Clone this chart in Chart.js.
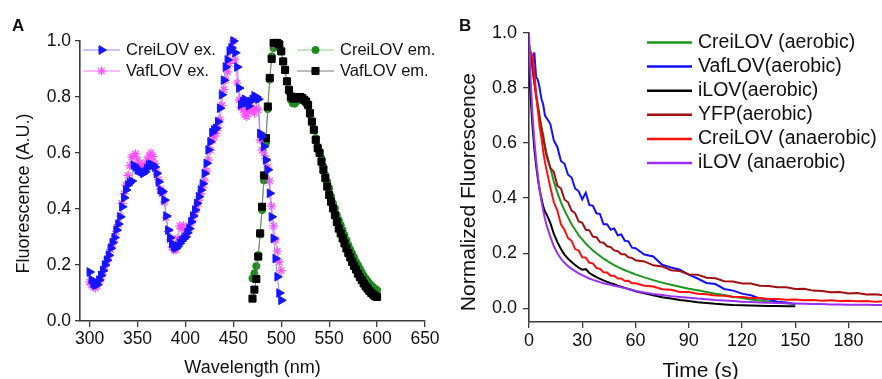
<!DOCTYPE html>
<html lang="en">
<head>
  <meta charset="UTF-8">
  <title>LOV fluorescence spectra and photobleaching</title>
  <script src="https://cdn.jsdelivr.net/npm/chart.js"></script>
  <style>
    body {
      margin: 0;
      background: #fff;
      overflow: hidden;
      font-family: "Liberation Sans", Arial, sans-serif;
    }
    .page {
      position: relative;
      width: 882px;
      height: 379px;
      overflow: hidden;
    }
    canvas {
      position: absolute;
      top: 0;
    }
    #chartA { left: 0; }
    #chartB { left: 441px; }
    .panel {
      position: absolute;
      font: bold 17px "Liberation Sans", Arial, sans-serif;
      line-height: 17px;
      color: #111;
    }
  </style>
</head>
<body>
  <div class="page">
    <canvas id="chartA" width="450" height="379"></canvas>
    <canvas id="chartB" width="445" height="384"></canvas>
    <div class="panel" style="left:12px; top:17px;">A</div>
    <div class="panel" style="left:459px; top:17px;">B</div>
  </div>

  <script>
    // Panel A : spectres d'excitation / d'émission (pas de 2 nm)
    const exWavelength = [
      300,302,304,306,308,310,312,314,316,318,
      320,322,324,326,328,330,332,334,336,338,
      340,342,344,346,348,350,352,354,356,358,
      360,362,364,366,368,370,372,374,376,378,
      380,382,384,386,388,390,392,394,396,398,
      400,402,404,406,408,410,412,414,416,418,
      420,422,424,426,428,430,432,434,436,438,
      440,442,444,446,448,450,452,454,456,458,
      460,462,464,466,468,470,472,474,476,478,
      480,482,484,486,488,490,492,494,496,498,
      500
    ];
    const creiEx = [
      .175,.148,.134,.128,.130,.146,.163,.180,.200,.217,
      .235,.260,.280,.298,.325,.346,.372,.408,.440,.468,
      .486,.494,.500,.557,.550,.540,.537,.533,.527,.533,
      .545,.557,.560,.557,.550,.527,.497,.468,.462,.432,
      .375,.325,.298,.277,.265,.260,.267,.277,.286,.293,
      .300,.315,.330,.354,.375,.396,.420,.444,.468,.490,
      .527,.563,.611,.640,.673,.683,.688,.712,.760,.808,
      .860,.907,.933,.963,.975,1.0,.958,.907,.832,.772,
      .784,.792,.780,.768,.784,.792,.804,.800,.792,.670,
      .659,.623,.575,.540,.456,.372,.295,.223,.158,.100,
      .074
    ];
    const vafEx = [
      .140,.128,.122,.118,.125,.140,.158,.176,.196,.214,
      .232,.255,.275,.295,.320,.345,.375,.420,.455,.485,
      .520,.555,.585,.590,.597,.575,.563,.555,.550,.560,
      .575,.590,.600,.587,.563,.533,.505,.470,.455,.425,
      .370,.320,.290,.265,.253,.255,.295,.340,.330,.340,
      .313,.313,.330,.350,.370,.388,.410,.432,.455,.478,
      .500,.535,.575,.610,.645,.660,.670,.690,.718,.770,
      .826,.860,.890,.920,.980,1.0,.933,.850,.790,.764,
      .754,.736,.730,.748,.760,.754,.742,.760,.754,.647,
      .611,.600,.580,.550,.500,.410,.340,.290,.250,.210,
      .180
    ];
    const emWavelength = [
      470,472,474,476,478,480,482,484,486,488,
      490,492,494,496,498,500,502,504,506,508,
      510,512,514,516,518,520,522,524,526,528,
      530,532,534,536,538,540,542,544,546,548,
      550,552,554,556,558,560,562,564,566,568,
      570,572,574,576,578,580,582,584,586,588,
      590,592,594,596,598,600
    ];
    const creiEm = [
      .152,.170,.196,.235,.310,.396,.502,.635,.757,.862,
      .945,.975,.990,.990,.980,.963,.927,.895,.856,.820,
      .790,.778,.776,.784,.790,.790,.790,.784,.776,.766,
      .737,.712,.685,.653,.623,.605,.580,.551,.521,.497,
      .474,.444,.420,.402,.378,.360,.343,.325,.307,.289,
      .271,.255,.241,.227,.211,.200,.187,.174,.162,.152,
      .143,.134,.126,.120,.115,.110
    ];
    const vafEm = [
      .080,.112,.150,.230,.313,.408,.520,.653,.766,.868,
      .936,.993,.993,.993,.988,.963,.927,.897,.856,.826,
      .802,.796,.794,.796,.800,.800,.796,.790,.784,.772,
      .742,.712,.683,.647,.617,.600,.569,.540,.510,.480,
      .450,.426,.402,.378,.354,.330,.313,.295,.277,.259,
      .243,.227,.211,.197,.184,.169,.157,.146,.134,.124,
      .116,.107,.100,.094,.088,.086
    ];
    const xTicksA = [300, 350, 400, 450, 500, 550, 600, 650];
    const yTicksA = [0, 0.2, 0.4, 0.6, 0.8, 1.0];

    // Panel B : déclin de fluorescence normalisée (s)
    const timeS = [
      0,1,2,3,4,5,6,7,8,9,10,
      12,14,16,18,20,22,24,26,28,30,
      32,34,36,38,40,42,44,46,48,50,
      52,54,56,58,60,
      65,70,75,80,85,90,95,100,105,110,
      115,120,125,130,135,140,145,150,155,160,
      165,170,175,180,185,190,195,200
    ];
    const creiAerobic = [
      .96,.92,.87,.82,.78,.74,.70,.66,.63,.59,.56,
      .51,.46,.42,.385,.355,.33,.305,.285,.265,.25,
      .235,.222,.21,.20,.19,.18,.172,.164,.157,.15,
      .144,.138,.133,.128,.123,
      .112,.102,.093,.085,.078,.071,.065,.059,.053,.048,
      .042,.037,.032,.028,.024,.021,.018,.015
    ];
    const vafAerobic = [
      .96,.90,.88,.93,.84,.83,.80,.76,.74,.70,.69,
      .67,.61,.585,.535,.525,.485,.475,.435,.425,.395,
      .42,.375,.372,.345,.342,.305,.305,.285,.29,.265,
      .268,.245,.243,.22,.218,
      .195,.188,.158,.148,.14,.122,.108,.092,.088,.07,
      .064,.053,.047,.036,.032,.024,.021,.015
    ];
    const ilovAerobic = [
      .88,.76,.66,.58,.52,.47,.43,.40,.37,.35,.34,
      .31,.27,.24,.215,.195,.18,.168,.157,.147,.14,
      .142,.128,.12,.113,.107,.101,.096,.091,.087,.082,
      .078,.074,.07,.066,.062,
      .054,.047,.04,.035,.03,.026,.022,.019,.016,.014,
      .012,.011,.01,.009,.008,.008,.007,.007
    ];
    const yfpAerobic = [
      .90,.92,.87,.82,.77,.73,.69,.65,.62,.58,.55,
      .51,.495,.445,.435,.395,.385,.355,.345,.315,.31,
      .285,.283,.26,.258,.24,.238,.225,.222,.21,.207,
      .196,.196,.185,.183,.174,
      .170,.156,.152,.138,.135,.123,.122,.111,.109,.098,
      .097,.09,.09,.082,.081,.076,.076,.07,.071,.064,
      .063,.058,.059,.054,.055,.05,.051,.047
    ];
    const creiAnaerobic = [
      .88,.93,.92,.86,.78,.72,.66,.62,.57,.53,.50,
      .44,.385,.355,.305,.285,.255,.245,.215,.21,.185,
      .184,.165,.163,.146,.143,.131,.13,.118,.118,.108,
      .108,.099,.10,.091,.091,
      .082,.079,.069,.067,.059,.059,.053,.051,.046,.045,
      .041,.041,.037,.037,.034,.034,.031,.032,.029,.03,
      .027,.029,.026,.027,.025,.026,.024,.025
    ];
    const ilovAnaerobic = [
      1.0,.82,.70,.61,.54,.48,.43,.39,.355,.325,.30,
      .26,.225,.20,.18,.165,.153,.143,.135,.127,.12,
      .114,.108,.103,.099,.095,.091,.088,.085,.082,.079,
      .076,.073,.07,.066,.063,
      .057,.052,.048,.044,.041,.038,.035,.033,.03,.028,
      .026,.024,.023,.021,.02,.019,.018,.017,.016,.015,
      .015,.014,.014,.013,.013,.013,.012,.012
    ];
    const xTicksB = [0, 30, 60, 90, 120, 150, 180];
    const yTicksB = [0, 0.2, 0.4, 0.6, 0.8, 1.0];

    const FONT = '"Liberation Sans", Arial, sans-serif';
    const INK = '#111';

    function pts(xs, ys) {
      return ys.map((y, i) => ({ x: xs[i], y: y }));
    }

    // légende dessinée à la main (deux blocs pour le panneau A)
    const panelLegend = {
      id: 'panelLegend',
      afterDraw(chart, args, opts) {
        const ctx = chart.ctx;
        ctx.save();
        ctx.font = opts.font;
        ctx.textBaseline = 'middle';
        opts.items.forEach(it => {
          const ds = chart.data.datasets[it.index];
          ctx.strokeStyle = ds.borderColor;
          ctx.lineWidth = opts.lineWidth || ds.borderWidth;
          ctx.beginPath();
          ctx.moveTo(it.x, it.y);
          ctx.lineTo(it.x + opts.lineLen, it.y);
          ctx.stroke();
          if (ds.pointRadius && Chart.helpers && Chart.helpers.drawPoint) {
            ctx.fillStyle = ds.pointBackgroundColor;
            ctx.strokeStyle = ds.pointBorderColor;
            ctx.lineWidth = ds.pointBorderWidth || 1;
            Chart.helpers.drawPoint(ctx, {
              pointStyle: ds.pointStyle,
              radius: ds.pointRadius,
              rotation: ds.pointRotation || 0,
              borderWidth: ds.pointBorderWidth || 1
            }, it.x + opts.lineLen / 2, it.y);
          }
          ctx.fillStyle = INK;
          ctx.fillText(ds.label, it.x + opts.lineLen + opts.gap, it.y);
        });
        ctx.restore();
      }
    };

    function axis(opts) {
      return {
        type: 'linear',
        min: opts.min,
        max: opts.max,
        afterBuildTicks: s => { s.ticks = opts.ticks.map(v => ({ value: v })); },
        afterFit: s => {
          if (opts.width) s.width = opts.width;
          if (opts.height) s.height = opts.height;
        },
        border: { display: true, color: '#3a3a3a', width: 1.6 },
        grid: { drawOnChartArea: false, drawTicks: true, tickLength: opts.tickLength, color: '#3a3a3a', lineWidth: 1.3 },
        ticks: {
          color: INK,
          padding: opts.tickPad,
          font: { family: FONT, size: opts.tickSize },
          maxRotation: 0,
          callback: opts.fmt
        },
        title: {
          display: true,
          text: opts.title,
          color: INK,
          font: { family: FONT, size: opts.titleSize },
          padding: opts.titlePad
        }
      };
    }

    new Chart(document.getElementById('chartA'), {
      type: 'line',
      data: {
        datasets: [
          {
            label: 'CreiLOV ex.',
            data: pts(exWavelength, creiEx),
            borderColor: '#8c8cff',
            borderWidth: 1,
            pointStyle: 'triangle',
            pointRotation: 90,
            pointRadius: 5,
            pointBackgroundColor: '#1414ff',
            pointBorderColor: '#1414ff',
            pointBorderWidth: 1,
            order: 0
          },
          {
            label: 'VafLOV ex.',
            data: pts(exWavelength, vafEx),
            borderColor: '#ff7bff',
            borderWidth: 1,
            pointStyle: 'star',
            pointRadius: 4.5,
            pointBackgroundColor: '#ff4dff',
            pointBorderColor: '#ff4dff',
            pointBorderWidth: 1.2,
            order: 2
          },
          {
            label: 'CreiLOV em.',
            data: pts(emWavelength, creiEm),
            borderColor: '#86cf86',
            borderWidth: 1,
            pointStyle: 'circle',
            pointRadius: 3.6,
            pointBackgroundColor: '#1c8a1c',
            pointBorderColor: '#1c8a1c',
            pointBorderWidth: 1,
            order: 3
          },
          {
            label: 'VafLOV em.',
            data: pts(emWavelength, vafEm),
            borderColor: '#7a7a7a',
            borderWidth: 1,
            pointStyle: 'rect',
            pointRadius: 5,
            pointBackgroundColor: '#000',
            pointBorderColor: '#000',
            pointBorderWidth: 1,
            order: 1
          }
        ]
      },
      options: {
        responsive: false,
        animation: false,
        devicePixelRatio: 1,
        clip: 10,
        elements: { line: { tension: 0 } },
        layout: { padding: { top: 41, right: 25, bottom: 0, left: 0 } },
        scales: {
          x: axis({
            min: 290, max: 650, ticks: xTicksA, height: 58,
            tickLength: 6, tickPad: 2, tickSize: 17.5,
            fmt: v => String(v),
            title: 'Wavelength (nm)', titleSize: 18, titlePad: { top: 0, bottom: 0 }
          }),
          y: axis({
            min: 0, max: 1, ticks: yTicksA, width: 80,
            tickLength: 5, tickPad: 4, tickSize: 17.5,
            fmt: v => v.toFixed(1),
            title: 'Fluorescence (A.U.)     ', titleSize: 18, titlePad: { top: 13, bottom: 0 }
          })
        },
        plugins: {
          legend: { display: false },
          tooltip: { enabled: false },
          panelLegend: {
            font: '16.5px ' + FONT,
            lineLen: 37,
            gap: 6,
            lineWidth: 1,
            items: [
              { index: 0, x: 83, y: 50 },
              { index: 1, x: 83, y: 71 },
              { index: 2, x: 297, y: 50 },
              { index: 3, x: 297, y: 71 }
            ]
          }
        }
      },
      plugins: [panelLegend]
    });

    new Chart(document.getElementById('chartB'), {
      type: 'line',
      data: {
        datasets: [
          { label: 'CreiLOV (aerobic)', data: pts(timeS, creiAerobic), borderColor: '#1e961e', order: 5 },
          { label: 'VafLOV(aerobic)', data: pts(timeS, vafAerobic), borderColor: '#1010ff', order: 4 },
          { label: 'iLOV(aerobic)', data: pts(timeS, ilovAerobic), borderColor: '#000000', order: 3 },
          { label: 'YFP(aerobic)', data: pts(timeS, yfpAerobic), borderColor: '#a30f0f', order: 2 },
          { label: 'CreiLOV (anaerobic)', data: pts(timeS, creiAnaerobic), borderColor: '#ff1010', order: 1 },
          { label: 'iLOV (anaerobic)', data: pts(timeS, ilovAnaerobic), borderColor: '#9b30f5', order: 0 }
        ]
      },
      options: {
        responsive: false,
        animation: false,
        devicePixelRatio: 1,
        elements: {
          line: { tension: 0, borderWidth: 2 },
          point: { radius: 0 }
        },
        layout: { padding: { top: 33, right: 2, bottom: 0, left: 0 } },
        scales: {
          x: axis({
            min: 0, max: 200, ticks: xTicksB, height: 62,
            tickLength: 6, tickPad: 2, tickSize: 18,
            fmt: v => String(v),
            title: 'Time (s)  ', titleSize: 21, titlePad: { top: 0, bottom: 0 }
          }),
          y: axis({
            min: -0.05, max: 1, ticks: yTicksB, width: 88,
            tickLength: 6, tickPad: 6, tickSize: 18,
            fmt: v => v.toFixed(1),
            title: 'Normalized Fluorescence     ', titleSize: 21, titlePad: { top: 16, bottom: 0 }
          })
        },
        plugins: {
          legend: { display: false },
          tooltip: { enabled: false },
          panelLegend: {
            font: '19.5px ' + FONT,
            lineLen: 45,
            gap: 6,
            lineWidth: 2.5,
            items: [
              { index: 0, x: 206, y: 42.5 },
              { index: 1, x: 206, y: 66.6 },
              { index: 2, x: 206, y: 90.7 },
              { index: 3, x: 206, y: 114.8 },
              { index: 4, x: 206, y: 138.9 },
              { index: 5, x: 206, y: 163 }
            ]
          }
        }
      },
      plugins: [panelLegend]
    });
  </script>
</body>
</html>
